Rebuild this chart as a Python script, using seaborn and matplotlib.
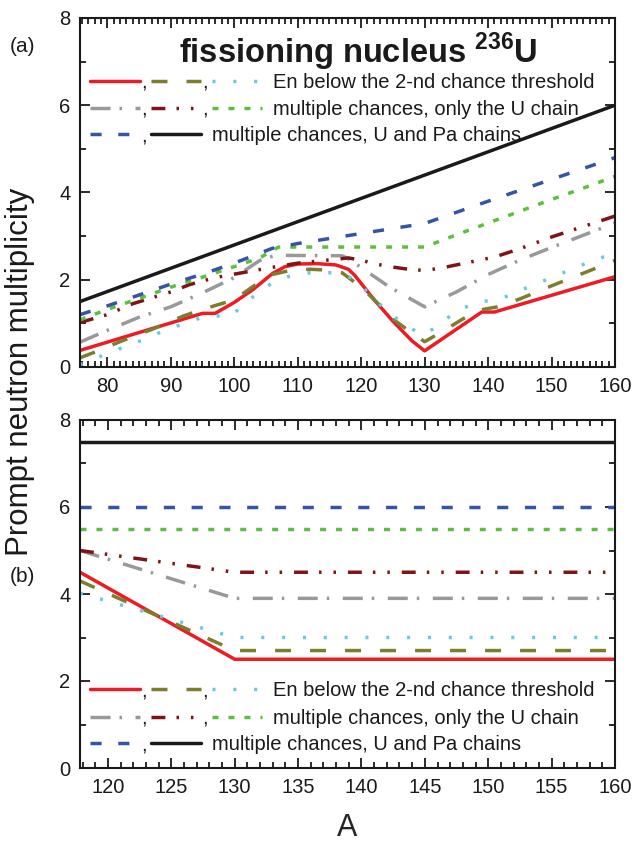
import matplotlib
matplotlib.use("Agg")
import matplotlib.pyplot as plt
import seaborn as sns
from matplotlib.lines import Line2D
from matplotlib.text import Text
from matplotlib.legend import Legend
from matplotlib.legend_handler import HandlerBase
from matplotlib.ticker import MultipleLocator

sns.set_style("ticks")
plt.rcParams['font.family'] = ['Liberation Sans', 'DejaVu Sans']
plt.rcParams['mathtext.fontset'] = 'custom'
plt.rcParams['mathtext.rm'] = 'Liberation Sans'
plt.rcParams['mathtext.bf'] = 'Liberation Sans:bold'
plt.rcParams['lines.scale_dashes'] = False
plt.rcParams['axes.edgecolor'] = '#1a1a1a'
plt.rcParams['xtick.color'] = '#1a1a1a'
plt.rcParams['ytick.color'] = '#1a1a1a'
plt.rcParams['text.color'] = '#1a1a1a'

# ---------------- data: panel (a) ----------------
a_red_x = [75.7, 95, 97, 100, 103, 106, 108, 110, 113, 116, 118, 119, 122, 125, 128, 130, 139, 141, 160]
a_red_y = [0.38, 1.23, 1.23, 1.48, 1.78, 2.14, 2.30, 2.36, 2.37, 2.34, 2.24, 2.10, 1.55, 1.05, 0.60, 0.37, 1.26, 1.26, 2.07]

a_olive_x = [75.7, 78, 82, 87, 92, 95, 100, 103, 106, 109, 112, 115, 117, 120, 122, 125, 127.5, 130, 133, 136, 138.5, 141.5, 145, 150, 155, 160]
a_olive_y = [0.21, 0.34, 0.58, 0.86, 1.17, 1.32, 1.54, 1.85, 2.12, 2.22, 2.24, 2.22, 2.16, 1.83, 1.55, 1.10, 0.83, 0.58, 0.83, 1.10, 1.30, 1.38, 1.56, 1.86, 2.15, 2.44]

a_cyan_x = [75.7, 79, 83, 86, 89, 93, 95.5, 99.5, 102.5, 106, 109, 112, 116, 119, 122, 125.3, 128.5, 130, 132, 135, 138.5, 141.5, 145, 150, 155, 160]
a_cyan_y = [0.05, 0.25, 0.48, 0.64, 0.84, 1.04, 1.17, 1.17, 1.56, 1.93, 2.10, 2.16, 2.16, 2.02, 1.56, 1.14, 0.83, 0.74, 0.94, 1.28, 1.50, 1.53, 1.75, 2.05, 2.35, 2.62]

a_gray_x = [75.7, 80, 85, 90, 95, 100, 104, 106.5, 117, 118, 124.5, 130, 135, 140, 145, 150, 155, 160]
a_gray_y = [0.57, 0.84, 1.14, 1.38, 1.70, 2.05, 2.44, 2.56, 2.55, 2.48, 1.83, 1.38, 1.72, 2.12, 2.45, 2.74, 3.02, 3.30]

a_dred_x = [75.7, 80, 84, 90, 93, 97, 102, 105, 110, 114, 118, 120, 122, 124.5, 127, 130, 133, 137, 141, 145, 150, 155, 160]
a_dred_y = [1.02, 1.20, 1.45, 1.72, 1.89, 2.05, 2.18, 2.26, 2.38, 2.44, 2.50, 2.45, 2.37, 2.30, 2.25, 2.21, 2.28, 2.40, 2.52, 2.71, 2.98, 3.22, 3.46]

a_green_x = [75.7, 80, 85, 90, 95, 100, 104, 107, 130, 135, 140, 145, 150, 155, 160]
a_green_y = [1.08, 1.32, 1.57, 1.83, 2.06, 2.30, 2.50, 2.75, 2.75, 3.03, 3.30, 3.57, 3.84, 4.10, 4.37]

a_blue_x = [75.7, 80, 85, 90, 95, 100, 106, 110, 120, 130, 140, 150, 160]
a_blue_y = [1.20, 1.40, 1.65, 1.90, 2.13, 2.38, 2.72, 2.83, 3.06, 3.29, 3.80, 4.30, 4.80]

a_black_x = [75.7, 160]
a_black_y = [1.50, 6.00]

# ---------------- data: panel (b) ----------------
b_x = [117.8, 130, 160]
b_red_y = [4.50, 2.50, 2.50]
b_olive_y = [4.30, 2.70, 2.70]
b_cyan_y = [4.02, 3.00, 3.00]
b_gray_y = [5.00, 3.90, 3.90]
b_dred_y = [5.00, 4.50, 4.50]
b_green_y = [5.50, 5.50, 5.50]
b_blue_y = [6.00, 6.00, 6.00]
b_black_y = [7.50, 7.50, 7.50]

legend_labels = ["En below the 2-nd chance threshold",
                 "multiple chances, only the U chain",
                 "multiple chances, U and Pa chains"]
title_text = "fissioning nucleus $^{\\mathbf{236}}$U"

# ---------------- styles ----------------
LW = 2.5
STY = {
    'red':   dict(color='#ed1c24', linestyle='-'),
    'olive': dict(color='#7d7d2e', linestyle=(0, (11.5, 13.7))),
    'cyan':  dict(color='#6cc8e0', linestyle=(0, (2.2, 12.8))),
    'gray':  dict(color='#999999', linestyle=(0, (14.4, 6.5, 1.8, 9.7))),
    'dred':  dict(color='#7f1416', linestyle=(0, (10, 8, 1.8, 8.6, 1.8, 8.6))),
    'green': dict(color='#5cbf3f', linestyle=(0, (4.3, 7.2))),
    'blue':  dict(color='#3454a4', linestyle=(0, (8, 12))),
    'black': dict(color='#1a1a1a', linestyle='-'),
}


class CommaHandler(HandlerBase):
    def __init__(self, seg, gap, **kw):
        super().__init__(**kw)
        self.seg = seg
        self.gap = gap

    def create_artists(self, legend, orig_handle, xdescent, ydescent,
                       width, height, fontsize, trans):
        arts = []
        n = len(orig_handle)
        yc = height / 2 - ydescent
        for i, h in enumerate(orig_handle):
            x0 = -xdescent + i * (self.seg + self.gap)
            ln = Line2D([x0, x0 + self.seg], [yc, yc])
            self.update_prop(ln, h, legend)
            ln.set_transform(trans)
            arts.append(ln)
            if i < n - 1:
                t = Text(x0 + self.seg + self.gap * 0.35, yc - 0.35 * fontsize, ',',
                         fontsize=fontsize, ha='center', va='baseline',
                         color='#1a1a1a', family=['Liberation Sans', 'DejaVu Sans'])
                t.set_transform(trans)
                arts.append(t)
        return arts


def draw(ax, x, y, key):
    sns.lineplot(x=x, y=y, ax=ax, estimator=None, sort=False, legend=False,
                 linewidth=LW, **STY[key])
    return ax.lines[-1]


def add_legends(ax, groups, ys, x0=0.018, fs=14.5):
    seg, gap = 36.0, 8.0
    for hs, lab, yy in zip(groups, legend_labels, ys):
        n = len(hs)
        hl = (n * seg + (n - 1) * gap) / fs
        leg = Legend(ax, [tuple(hs)], [lab], loc='center left',
                     bbox_to_anchor=(x0, yy), bbox_transform=ax.transAxes,
                     frameon=False, borderpad=0, borderaxespad=0,
                     handlelength=hl, handletextpad=0.55, fontsize=fs,
                     handler_map={tuple: CommaHandler(seg, gap)})
        ax.add_artist(leg)


def style_axes(ax, xmaj):
    ax.xaxis.set_major_locator(MultipleLocator(xmaj))
    ax.xaxis.set_minor_locator(MultipleLocator(1))
    ax.yaxis.set_major_locator(MultipleLocator(2))
    ax.yaxis.set_minor_locator(MultipleLocator(1))
    ax.tick_params(which='both', direction='in', top=True, right=True,
                   width=1.3, labelsize=14.5, pad=7)
    ax.tick_params(which='major', length=7)
    ax.tick_params(which='minor', length=4)
    for s in ax.spines.values():
        s.set_linewidth(1.5)
    ax.set_xlabel('')
    ax.set_ylabel('')


fig = plt.figure(figsize=(6.32, 8.48), dpi=100)
L, R = 80, 615
axa = fig.add_axes([L / 632, 1 - 367 / 848, (R - L) / 632, 349 / 848])
axb = fig.add_axes([L / 632, 1 - 768 / 848, (R - L) / 632, 348 / 848])

# panel (a)
ha = {}
ha['red'] = draw(axa, a_red_x, a_red_y, 'red')
ha['olive'] = draw(axa, a_olive_x, a_olive_y, 'olive')
ha['cyan'] = draw(axa, a_cyan_x, a_cyan_y, 'cyan')
ha['gray'] = draw(axa, a_gray_x, a_gray_y, 'gray')
ha['dred'] = draw(axa, a_dred_x, a_dred_y, 'dred')
ha['green'] = draw(axa, a_green_x, a_green_y, 'green')
ha['blue'] = draw(axa, a_blue_x, a_blue_y, 'blue')
ha['black'] = draw(axa, a_black_x, a_black_y, 'black')
axa.set_xlim(75.7, 160)
axa.set_ylim(0, 8)
style_axes(axa, 10)
axa.text(0.52, 0.903, title_text, transform=axa.transAxes, ha='center',
         va='center', fontsize=23.5, fontweight='bold')
add_legends(axa, [[ha['red'], ha['olive'], ha['cyan']],
                  [ha['gray'], ha['dred'], ha['green']],
                  [ha['blue'], ha['black']]], [0.816, 0.739, 0.662])

# panel (b)
hb = {}
hb['red'] = draw(axb, b_x, b_red_y, 'red')
hb['olive'] = draw(axb, b_x, b_olive_y, 'olive')
hb['cyan'] = draw(axb, b_x, b_cyan_y, 'cyan')
hb['gray'] = draw(axb, b_x, b_gray_y, 'gray')
hb['dred'] = draw(axb, b_x, b_dred_y, 'dred')
hb['green'] = draw(axb, b_x, b_green_y, 'green')
hb['blue'] = draw(axb, b_x, b_blue_y, 'blue')
hb['black'] = draw(axb, b_x, b_black_y, 'black')
axb.set_xlim(117.8, 160)
axb.set_ylim(0, 8)
style_axes(axb, 5)
add_legends(axb, [[hb['red'], hb['olive'], hb['cyan']],
                  [hb['gray'], hb['dred'], hb['green']],
                  [hb['blue'], hb['black']]], [0.222, 0.143, 0.067])
axb.set_xlabel('A', fontsize=22, labelpad=12)

fig.text(0.036, 0.945, '(a)', fontsize=15, ha='center', va='center')
fig.text(0.036, 1 - 577 / 848, '(b)', fontsize=15, ha='center', va='center')
fig.text(0.032, 0.562, 'Prompt neutron multiplicity', rotation=90,
         fontsize=22.5, ha='center', va='center')

fig.savefig('out.png', dpi=100)
